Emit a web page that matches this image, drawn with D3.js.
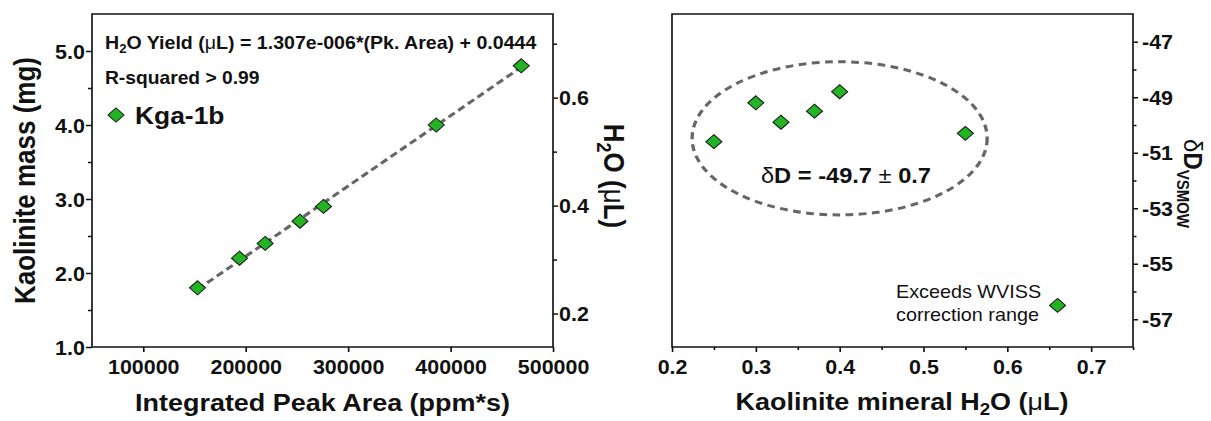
<!DOCTYPE html>
<html>
<head>
<meta charset="utf-8">
<script src="https://cdn.jsdelivr.net/npm/d3@7"></script>
<style>
  body { margin: 0; background: #fff; }
  text { font-family: "Liberation Sans", Arial, sans-serif; fill: #111; }
</style>
</head>
<body>
<div id="chart"></div>
<script>
// ---- data ----
const peakArea      = [153000, 194000, 219000, 253000, 276000, 386000, 469000];
const kaoliniteMass = [1.8, 2.2, 2.4, 2.7, 2.9, 4.0, 4.8];
const mineralH2O    = [0.25, 0.30, 0.33, 0.37, 0.40, 0.55, 0.66];
const deltaD        = [-50.6, -49.2, -49.9, -49.5, -48.8, -50.3, -56.5];

const areaTicks   = [100000, 200000, 300000, 400000, 500000];
const massTicks   = [1.0, 2.0, 3.0, 4.0, 5.0];
const massMinor   = [1.5, 2.5, 3.5, 4.5];
const yieldTicks  = [0.2, 0.4, 0.6];
const yieldMinor  = [0.3, 0.5, 0.7];
const h2oTicks    = [0.2, 0.3, 0.4, 0.5, 0.6, 0.7];
const h2oMinor    = [0.25, 0.35, 0.45, 0.55, 0.65, 0.75];
const dTicks      = [-47, -49, -51, -53, -55, -57];
const dMinor      = [-48, -50, -52, -54, -56];

// dashed ellipse round the grouped points (data units)
const ellipseX = [0.224, 0.576];
const ellipseY = [-53.24, -47.72];

// ---- layout (px of the picture); the figure is a little stretched sideways ----
const W = 1211, H = 421;
const SX = 1.1;
const X = px => px / SX;

const TOP = 14, BOTTOM = 347;
const L1 = 92, R1 = 553;   // left panel
const L2 = 672, R2 = 1133; // right panel

const GREEN = "#22b422";
const DASH_GRAY = "#666";
const TICK_FONT = "19.5px";

const svg = d3.select("#chart")
  .append("svg")
  .attr("width", W)
  .attr("height", H)
  .attr("viewBox", `0 0 ${W / SX} ${H}`)
  .attr("preserveAspectRatio", "none");

// scales
const xArea = d3.scaleLinear().domain([50000, 500000]).range([X(L1), X(R1)]);
const yMass = d3.scaleLinear().domain([1.0, 5.5]).range([BOTTOM, TOP]);
const yYield = d3.scaleLinear().domain([0.138, 0.755]).range([BOTTOM, TOP]);
const xH2O = d3.scaleLinear().domain([0.2, 0.75]).range([X(L2), X(R2)]);
const yD = d3.scaleLinear().domain([-58, -46]).range([BOTTOM, TOP]);

const diamond = (w, h) => `M0,${-h}L${w},0L0,${h}L${-w},0Z`;

function styleAxis(g, labels) {
  g.select(".domain").remove();
  g.selectAll(".tick line").attr("stroke", "#111").attr("stroke-width", 1.5);
  g.selectAll(".tick text")
    .style("font-size", TICK_FONT)
    .style("font-weight", "bold")
    .attr("fill", "#111");
  if (!labels) g.selectAll(".tick text").remove();
}

function drawAxis(axis, tx, ty, labels) {
  const g = svg.append("g").attr("transform", `translate(${tx},${ty})`).call(axis);
  styleAxis(g, labels);
  return g;
}

const fmt1 = d3.format(".1f");

// ================= LEFT PANEL =================
drawAxis(d3.axisBottom(xArea).tickValues(areaTicks).tickFormat(d3.format("d"))
  .tickSize(5).tickPadding(8), 0, BOTTOM, true);
drawAxis(d3.axisLeft(yMass).tickValues(massTicks).tickFormat(fmt1)
  .tickSize(X(6)).tickPadding(1), X(L1), 0, true)
  .selectAll(".tick text").attr("dy", "0.36em");
drawAxis(d3.axisLeft(yMass).tickValues(massMinor).tickSize(X(4)), X(L1), 0, false);
drawAxis(d3.axisRight(yYield).tickValues(yieldTicks).tickFormat(fmt1)
  .tickSize(X(5)).tickPadding(1), X(R1), 0, true)
  .selectAll(".tick text").attr("dy", "0.36em");
drawAxis(d3.axisRight(yYield).tickValues(yieldMinor).tickSize(X(4)), X(R1), 0, false);

svg.append("rect")
  .attr("x", X(L1)).attr("y", TOP)
  .attr("width", X(R1) - X(L1)).attr("height", BOTTOM - TOP)
  .attr("fill", "none").attr("stroke", "#111").attr("stroke-width", 1.5);

// least-squares line through the calibration points
const mx = d3.mean(peakArea), my = d3.mean(kaoliniteMass);
const slope = d3.sum(peakArea, (a, i) => (a - mx) * (kaoliniteMass[i] - my)) /
              d3.sum(peakArea, a => (a - mx) * (a - mx));
const fitEnds = d3.extent(peakArea);
svg.append("path")
  .attr("d", d3.line()(fitEnds.map(a => [xArea(a), yMass(my + slope * (a - mx))])))
  .attr("fill", "none")
  .attr("stroke", DASH_GRAY)
  .attr("stroke-width", 3)
  .attr("stroke-dasharray", "7,4");

svg.append("g")
  .selectAll("path")
  .data(peakArea)
  .enter()
  .append("path")
  .attr("transform", (d, i) => `translate(${xArea(d)},${yMass(kaoliniteMass[i])})`)
  .attr("d", diamond(7.3, 7))
  .attr("fill", GREEN)
  .attr("stroke", "#1a1a1a")
  .attr("stroke-width", 1);

// equation + legend
const eq = svg.append("text")
  .attr("x", X(105)).attr("y", 49)
  .style("font-size", "17.8px").style("font-weight", "bold");
eq.append("tspan").text("H");
eq.append("tspan").text("2").style("font-size", "12px").attr("dy", 4);
eq.append("tspan").text("O Yield (").attr("dy", -4);
eq.append("tspan").text("μ").style("font-weight", "normal");
eq.append("tspan").text("L) = 1.307e-006*(Pk. Area) + 0.0444");

svg.append("text")
  .attr("x", X(105)).attr("y", 84)
  .style("font-size", "17.5px").style("font-weight", "bold")
  .text("R-squared > 0.99");

svg.append("path")
  .attr("transform", `translate(${X(116)},115)`)
  .attr("d", diamond(7.3, 7))
  .attr("fill", GREEN).attr("stroke", "#1a1a1a").attr("stroke-width", 1);
svg.append("text")
  .attr("x", X(135)).attr("y", 124)
  .style("font-size", "24px").style("font-weight", "bold")
  .text("Kga-1b");

// axis titles
svg.append("text")
  .attr("x", (X(L1) + X(R1)) / 2).attr("y", 411)
  .attr("text-anchor", "middle")
  .style("font-size", "24.5px").style("font-weight", "bold")
  .text("Integrated Peak Area (ppm*s)");

svg.append("text")
  .attr("transform", `translate(${X(35)},${(TOP + BOTTOM) / 2}) rotate(-90)`)
  .attr("text-anchor", "middle")
  .style("font-size", "26px").style("font-weight", "bold")
  .text("Kaolinite mass (mg)");

const h2oLab = svg.append("text")
  .attr("transform", `translate(${X(604)},176) rotate(90)`)
  .attr("text-anchor", "middle")
  .style("font-size", "26px").style("font-weight", "bold");
h2oLab.append("tspan").text("H");
h2oLab.append("tspan").text("2").style("font-size", "18px").attr("dy", 6);
h2oLab.append("tspan").text("O (").attr("dy", -6);
h2oLab.append("tspan").text("μ").style("font-weight", "normal");
h2oLab.append("tspan").text("L)");

// ================= RIGHT PANEL =================
drawAxis(d3.axisBottom(xH2O).tickValues(h2oTicks).tickFormat(fmt1)
  .tickSize(5).tickPadding(8), 0, BOTTOM, true);
drawAxis(d3.axisBottom(xH2O).tickValues(h2oMinor).tickSize(3), 0, BOTTOM, false);
drawAxis(d3.axisRight(yD).tickValues(dTicks).tickFormat(d => String(d))
  .tickSize(X(5)).tickPadding(X(4)), X(R2), 0, true)
  .selectAll(".tick text").attr("dy", "0.36em");
drawAxis(d3.axisRight(yD).tickValues(dMinor).tickSize(X(3.5)), X(R2), 0, false);

svg.append("rect")
  .attr("x", X(L2)).attr("y", TOP)
  .attr("width", X(R2) - X(L2)).attr("height", BOTTOM - TOP)
  .attr("fill", "none").attr("stroke", "#111").attr("stroke-width", 1.5);

svg.append("ellipse")
  .attr("cx", xH2O(d3.mean(ellipseX)))
  .attr("cy", yD(d3.mean(ellipseY)))
  .attr("rx", (xH2O(ellipseX[1]) - xH2O(ellipseX[0])) / 2)
  .attr("ry", (yD(ellipseY[0]) - yD(ellipseY[1])) / 2)
  .attr("fill", "none")
  .attr("stroke", DASH_GRAY)
  .attr("stroke-width", 3)
  .attr("stroke-dasharray", "7,5");

svg.append("g")
  .selectAll("path")
  .data(mineralH2O)
  .enter()
  .append("path")
  .attr("transform", (d, i) => `translate(${xH2O(d)},${yD(deltaD[i])})`)
  .attr("d", diamond(7.3, 7))
  .attr("fill", GREEN)
  .attr("stroke", "#1a1a1a")
  .attr("stroke-width", 1);

const mean = svg.append("text")
  .attr("x", X(846)).attr("y", 183)
  .attr("text-anchor", "middle")
  .style("font-size", "21.5px").style("font-weight", "bold");
mean.append("tspan").text("δ").style("font-weight", "normal");
mean.append("tspan").text("D = -49.7 ");
mean.append("tspan").text("±").style("font-weight", "normal");
mean.append("tspan").text(" 0.7");

svg.append("text")
  .attr("x", X(896)).attr("y", 298)
  .style("font-size", "18px")
  .text("Exceeds WVISS");
svg.append("text")
  .attr("x", X(896)).attr("y", 321)
  .style("font-size", "18px")
  .text("correction range");

svg.append("text")
  .attr("transform", `translate(${X(902)},410)`)
  .attr("text-anchor", "middle")
  .style("font-size", "24.5px").style("font-weight", "bold")
  .call(t => {
    t.append("tspan").text("Kaolinite mineral H");
    t.append("tspan").text("2").style("font-size", "17px").attr("dy", 5);
    t.append("tspan").text("O (").attr("dy", -5);
    t.append("tspan").text("μ").style("font-weight", "normal");
    t.append("tspan").text("L)");
  });

const dLab = svg.append("text")
  .attr("transform", `translate(${X(1184)},${(TOP + BOTTOM) / 2 + 3}) rotate(90)`)
  .attr("text-anchor", "middle")
  .style("font-size", "24px");
dLab.append("tspan").text("δ");
dLab.append("tspan").text("D").style("font-weight", "bold");
dLab.append("tspan").text("VSMOW").style("font-weight", "bold").style("font-size", "15px").attr("dy", 6);
</script>
</body>
</html>
